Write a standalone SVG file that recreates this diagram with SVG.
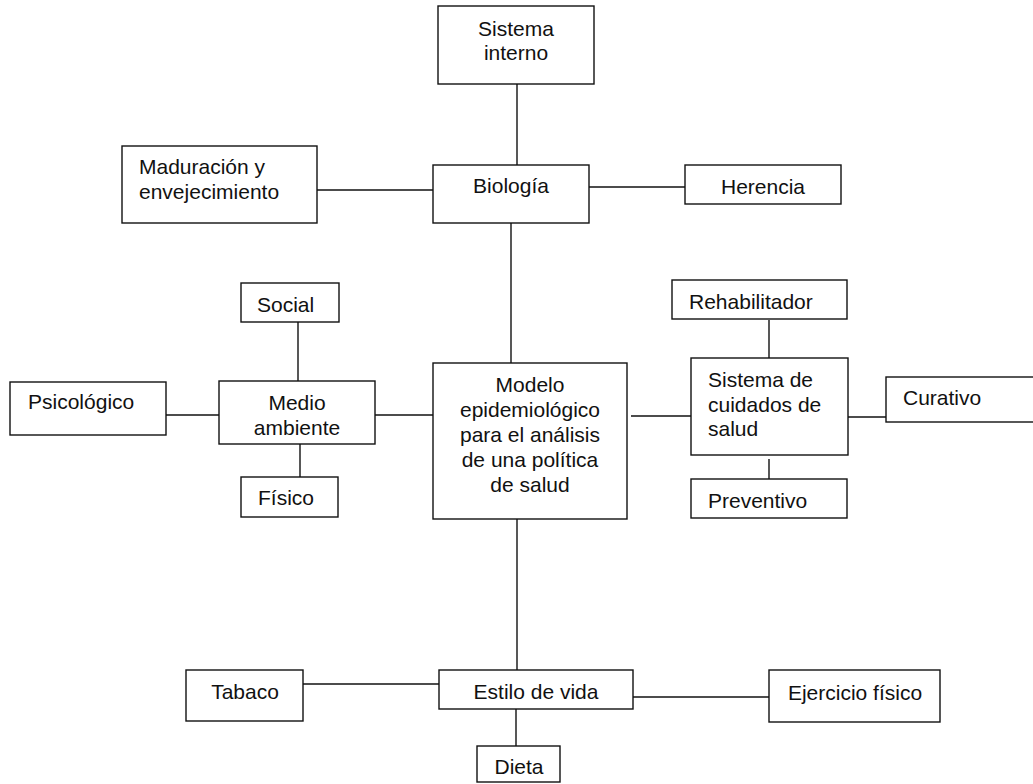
<svg xmlns="http://www.w3.org/2000/svg" width="1033" height="784" viewBox="0 0 1033 784">
  <style>
    .box { fill: #ffffff; stroke: #111111; stroke-width: 1.4; }
    .link { stroke: #111111; stroke-width: 1.4; fill: none; }
    text { font-family: "Liberation Sans", Arial, sans-serif; font-size: 21px; fill: #111111; }
    .c { text-anchor: middle; }
  </style>
  <rect x="0" y="0" width="1033" height="784" fill="#ffffff"/>

  <!-- connectors -->
  <g id="connectors">
    <line class="link" x1="517" y1="84" x2="517" y2="165"/>
    <line class="link" x1="317" y1="190" x2="433" y2="190"/>
    <line class="link" x1="589" y1="187" x2="685" y2="187"/>
    <line class="link" x1="511" y1="223" x2="511" y2="363"/>
    <line class="link" x1="298" y1="322" x2="298" y2="381"/>
    <line class="link" x1="163" y1="415" x2="222" y2="415"/>
    <line class="link" x1="300" y1="440" x2="300" y2="479"/>
    <line class="link" x1="375" y1="415" x2="433" y2="415"/>
    <line class="link" x1="631" y1="416" x2="691" y2="416"/>
    <line class="link" x1="769" y1="320" x2="769" y2="360"/>
    <line class="link" x1="769" y1="459" x2="769" y2="479"/>
    <line class="link" x1="848" y1="417" x2="886" y2="417"/>
    <line class="link" x1="517" y1="519" x2="517" y2="675"/>
    <line class="link" x1="303" y1="684" x2="439" y2="684"/>
    <line class="link" x1="633" y1="697" x2="769" y2="697"/>
    <line class="link" x1="516" y1="709" x2="516" y2="746"/>
  </g>

  <g id="sistema-interno">
    <rect class="box" x="438" y="6" width="156" height="78"/>
    <text class="c" x="516" y="36">Sistema</text>
    <text class="c" x="516" y="60">interno</text>
  </g>

  <g id="maduracion">
    <rect class="box" x="122" y="146" width="195" height="77"/>
    <text x="139" y="174">Maduración y</text>
    <text x="139" y="199">envejecimiento</text>
  </g>

  <g id="biologia">
    <rect class="box" x="433" y="165" width="156" height="58"/>
    <text class="c" x="511" y="193">Biología</text>
  </g>

  <g id="herencia">
    <rect class="box" x="685" y="165" width="156" height="39"/>
    <text class="c" x="763" y="194">Herencia</text>
  </g>

  <g id="social">
    <rect class="box" x="241" y="283" width="98" height="39"/>
    <text x="257" y="312">Social</text>
  </g>

  <g id="psicologico">
    <rect class="box" x="10" y="382" width="156" height="53"/>
    <text x="28" y="409">Psicológico</text>
  </g>

  <g id="medio-ambiente">
    <rect class="box" x="219" y="381" width="156" height="63"/>
    <text class="c" x="297" y="410">Medio</text>
    <text class="c" x="297" y="435">ambiente</text>
  </g>

  <g id="fisico">
    <rect class="box" x="241" y="477" width="97" height="40"/>
    <text x="258" y="505">Físico</text>
  </g>

  <g id="modelo">
    <rect class="box" x="433" y="363" width="194" height="156"/>
    <text class="c" x="530" y="392">Modelo</text>
    <text class="c" x="530" y="417">epidemiológico</text>
    <text class="c" x="530" y="442">para el análisis</text>
    <text class="c" x="530" y="467">de una política</text>
    <text class="c" x="530" y="492">de salud</text>
  </g>

  <g id="rehabilitador">
    <rect class="box" x="672" y="280" width="175" height="39"/>
    <text x="689" y="309">Rehabilitador</text>
  </g>

  <g id="sistema-cuidados">
    <rect class="box" x="691" y="358" width="157" height="97"/>
    <text x="708" y="387">Sistema de</text>
    <text x="708" y="412">cuidados de</text>
    <text x="708" y="436">salud</text>
  </g>

  <g id="curativo">
    <rect class="box" x="886" y="377" width="160" height="45"/>
    <text x="903" y="405">Curativo</text>
  </g>

  <g id="preventivo">
    <rect class="box" x="691" y="479" width="156" height="39"/>
    <text x="708" y="508">Preventivo</text>
  </g>

  <g id="tabaco">
    <rect class="box" x="186" y="670" width="117" height="51"/>
    <text class="c" x="245" y="699">Tabaco</text>
  </g>

  <g id="estilo-de-vida">
    <rect class="box" x="439" y="670" width="194" height="39"/>
    <text class="c" x="536" y="699">Estilo de vida</text>
  </g>

  <g id="ejercicio">
    <rect class="box" x="769" y="670" width="171" height="52"/>
    <text class="c" x="855" y="700">Ejercicio físico</text>
  </g>

  <g id="dieta">
    <rect class="box" x="477" y="746" width="83" height="36"/>
    <text class="c" x="519" y="774">Dieta</text>
  </g>
</svg>
